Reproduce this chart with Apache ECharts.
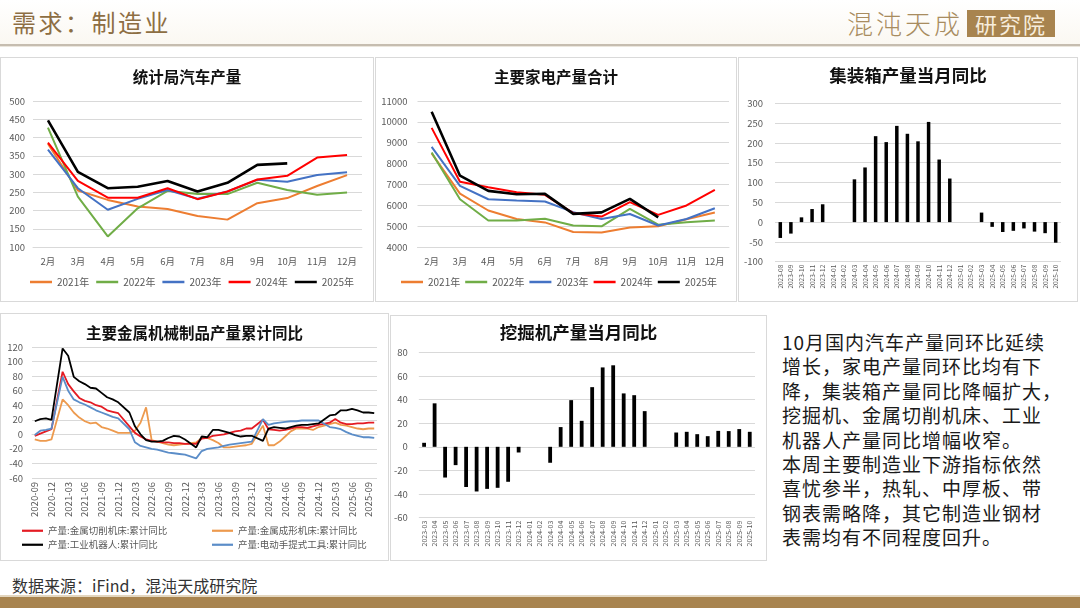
<!DOCTYPE html>
<html><head><meta charset="utf-8">
<script src="https://cdn.jsdelivr.net/npm/echarts@6/dist/echarts.min.js"></script>
<style>
html,body{margin:0;padding:0;background:#fff;width:1080px;height:608px;overflow:hidden;font-family:"Noto Sans CJK SC",sans-serif;}
.abs{position:absolute;}
.panel{position:absolute;border:1px solid #d9d9d9;box-sizing:border-box;background:#fff;}
</style></head>
<body>
<div class="abs" style="left:0;top:0;width:1080px;height:44px;background:linear-gradient(#ffffff,#fbf8f2);"></div>
<div class="abs" style="left:12px;top:6px;font-size:24px;color:#8d6e43;letter-spacing:2.5px;line-height:32px;">需求：制造业</div>
<div class="abs" style="left:847px;top:7px;font-size:26px;color:#a88c60;letter-spacing:3px;line-height:32px;font-weight:300;">混沌天成</div>
<div class="abs" style="left:967px;top:10px;width:88px;height:27px;background:#a8844f;color:#f7eddc;font-size:22px;line-height:27px;text-align:center;letter-spacing:2px;">研究院</div>
<div class="abs" style="left:0;top:44px;width:1080px;height:2px;background:#c6bdb0;"></div>
<div class="abs" style="left:0;top:46px;width:1080px;height:1px;background:#ebe6dd;"></div>

<div id="p1" class="panel" style="left:0;top:57px;width:374px;height:245px;"></div>
<div id="p2" class="panel" style="left:375px;top:57px;width:362px;height:245px;"></div>
<div id="p3" class="panel" style="left:738px;top:57px;width:340px;height:245px;"></div>
<div id="p4" class="panel" style="left:0;top:313px;width:389px;height:248px;"></div>
<div id="p5" class="panel" style="left:390px;top:315px;width:377px;height:246px;"></div>

<div class="abs" style="left:782px;top:330px;width:295px;font-size:19px;line-height:24.4px;color:#1a1a1a;letter-spacing:1px;">10月国内汽车产量同环比延续<br>增长，家电产量同环比均有下<br>降，集装箱产量同比降幅扩大，<br>挖掘机、金属切削机床、工业<br>机器人产量同比增幅收窄。<br>本周主要制造业下游指标依然<br>喜忧参半，热轧、中厚板、带<br>钢表需略降，其它制造业钢材<br>表需均有不同程度回升。</div>

<div class="abs" style="left:12px;top:574px;font-size:16px;color:#333;line-height:22px;">数据来源：iFind，混沌天成研究院</div>
<div class="abs" style="left:0;top:595px;width:1080px;height:2px;background:#e3d6bf;"></div>
<div class="abs" style="left:0;top:597px;width:1080px;height:11px;background:#a8844f;"></div>

<script>
// ---------- data ----------
var monthCats = ['2月','3月','4月','5月','6月','7月','8月','9月','10月','11月','12月'];
var yearNames = ['2021年','2022年','2023年','2024年','2025年'];
var car2021 = [383, 255, 229, 211, 204, 185, 175, 220, 234, 267, 297];
var car2022 = [427, 238, 129, 206, 254, 245, 245, 276, 256, 243, 249];
var car2023 = [367, 261, 202, 232, 256, 232, 252, 284, 279, 297, 305];
var car2024 = [386, 281, 235, 235, 261, 231, 252, 285, 295, 345, 352];
var car2025 = [447, 306, 261, 265, 281, 252, 276, 325, 329];

var app2021 = [8490, 6560, 5750, 5340, 5180, 4720, 4700, 4940, 4990, 5330, 5650];
var app2022 = [8530, 6290, 5270, 5270, 5350, 5030, 4990, 5830, 5070, 5190, 5270];
var app2023 = [8800, 6930, 6290, 6230, 6180, 5670, 5340, 5580, 5030, 5340, 5860];
var app2024 = [9710, 7130, 6860, 6630, 6500, 5620, 5460, 6150, 5540, 5990, 6740];
var app2025 = [10480, 7420, 6690, 6530, 6550, 5590, 5660, 6310, 5420];

var containerCats = ['2023-08','2023-09','2023-10','2023-11','2023-12',
  '2024-01','2024-02','2024-03','2024-04','2024-05','2024-06','2024-07','2024-08','2024-09','2024-10','2024-11','2024-12',
  '2025-01','2025-02','2025-03','2025-04','2025-05','2025-06','2025-07','2025-08','2025-09','2025-10'];
var containerYoY = [-40,-29,12,33,45, null,null,108,138,217,202,243,223,204,253,158,110, null,null,24,-12,-25,-22,-16,-24,-28,-52];

var excavatorCats = ['2023-03','2023-04','2023-05','2023-06','2023-07','2023-08','2023-09','2023-10','2023-11','2023-12',
  '2024-01','2024-02','2024-03','2024-04','2024-05','2024-06','2024-07','2024-08','2024-09','2024-10','2024-11','2024-12',
  '2025-01','2025-02','2025-03','2025-04','2025-05','2025-06','2025-07','2025-08','2025-09','2025-10'];
var excavatorYoY = [3.4,36.8,-26,-15.5,-34,-37.8,-35.6,-34.7,-29.6,-4.8, null,null,-13.5,16.7,39.5,22,50.5,67.2,69,45.2,43.7,30.2, null,null,12.1,12.7,10.7,9,13.5,13.3,15,12.7];

var metalCats = ['2020-09','2020-10','2020-11','2020-12',
  '2021-01','2021-02','2021-03','2021-04','2021-05','2021-06','2021-07','2021-08','2021-09','2021-10','2021-11','2021-12',
  '2022-01','2022-02','2022-03','2022-04','2022-05','2022-06','2022-07','2022-08','2022-09','2022-10','2022-11','2022-12',
  '2023-01','2023-02','2023-03','2023-04','2023-05','2023-06','2023-07','2023-08','2023-09','2023-10','2023-11','2023-12',
  '2024-01','2024-02','2024-03','2024-04','2024-05','2024-06','2024-07','2024-08','2024-09','2024-10','2024-11','2024-12',
  '2025-01','2025-02','2025-03','2025-04','2025-05','2025-06','2025-07','2025-08','2025-09','2025-10'];
var metalNames = ['产量:金属切削机床:累计同比','产量:金属成形机床:累计同比','产量:工业机器人:累计同比','产量:电动手提式工具:累计同比'];
var cuttingTool = [-2,1,4,7, null,86,69,59,50,46,44,40,38,33,31,29, null,11,2,-3,-7,-9,-10,-11,-11,-12,-12,-13,
  null,-13,-6,-5,-2,-1,0,2,4,5,8,8, null,20,7,6,5,6,8,10,10,9,11,13, null,16,21,16,14,14,15,15,16,16];
var formingTool = [-7,-9,-9,-7, null,48,40,30,23,18,15,16,10,8,5,2, null,2,5,16,37,-8,-10,-12,-14,-15,-14,-13,
  null,-11,-5,-5,-8,-12,-18,-18,-17,-16,-15,-13, null,12,-15,-15,-10,-3,4,8,8,8,6,10, null,14,16,13,12,10,8,7,8,8];
var robot = [18,21,22,20, null,118,108,79,73,69,64,63,57,51,48,44, null,30,11,0,-8,-10,-10,-9,-5,-2,-3,-7,
  null,-18,-3,-4,6,6,4,2,-1,-3,-2,-2, null,-9,8,10,9,8,10,12,13,13,14,15, null,26,27,33,33,35,33,30,30,29];
var powerTool = [-1,5,6,8, null,79,60,48,44,41,37,33,30,27,24,22, null,7,-11,-16,-18,-20,-21,-23,-25,-26,-27,-28,
  null,-33,-23,-20,-19,-18,-16,-14,-13,-12,-11,-10, null,21,13,15,16,17,18,18,19,19,19,19, null,10,9,7,3,0,-2,-4,-4,-5];

// ---------- styles ----------
var FONT = '"Noto Sans CJK SC", sans-serif';
var GRAY = '#595959', GRID = '#d9d9d9';
var yearColors = ['#ED7D31','#70AD47','#4472C4','#FF0000','#000000'];

function titleOf(text, top, size) {
  return {text: text, left: 'center', top: top, padding: 0,
    textStyle: {fontFamily: FONT, fontSize: size, fontWeight: 'bold', color: '#111'}};
}
function valueAxis(min, max, interval, margin) {
  return {type: 'value', min: min, max: max, interval: interval,
    axisLine: {show: false}, axisTick: {show: false},
    axisLabel: {color: GRAY, fontSize: 9.5, fontFamily: FONT, margin: margin,
      formatter: function (v) { return String(v); }},
    splitLine: {lineStyle: {color: GRID, width: 1}}};
}
function yearLineChart(id, arrays, yMin, yMax, yInt, grid, legendLeft, legendGap, labelMargin, title) {
  var chart = echarts.init(document.getElementById(id), null, {renderer: 'canvas'});
  var series = arrays.map(function (d, i) {
    return {name: yearNames[i], type: 'line', data: d, symbol: 'none', smooth: false,
      lineStyle: {color: yearColors[i], width: i === 4 ? 2.6 : 2}, itemStyle: {color: yearColors[i]}, z: i + 2};
  });
  chart.setOption({
    animation: false,
    title: titleOf(title, 11, 15.5),
    grid: grid,
    legend: {data: yearNames, left: legendLeft, top: 219, padding: 0, icon: 'rect', itemWidth: 22, itemHeight: 2.5, itemGap: legendGap,
      textStyle: {color: GRAY, fontSize: 10, fontFamily: FONT}},
    xAxis: {type: 'category', data: monthCats, boundaryGap: true,
      axisLine: {show: true, lineStyle: {color: GRID}}, axisTick: {show: false},
      axisLabel: {color: GRAY, fontSize: 9.5, fontFamily: FONT, margin: 10}},
    yAxis: valueAxis(yMin, yMax, yInt, labelMargin),
    series: series
  });
}

yearLineChart('p1', [car2021, car2022, car2023, car2024, car2025], 100, 500, 50,
  {left: 32, right: 11, top: 43, bottom: 54}, 29, 7, 8, '统计局汽车产量');
yearLineChart('p2', [app2021, app2022, app2023, app2024, app2025], 4000, 11000, 1000,
  {left: 41.5, right: 7, top: 43, bottom: 54}, 25, 5, 10, '主要家电产量合计');

function barChart(id, title, titleTop, cats, vals, min, max, interval, grid, labelSize, barWidth, yMargin) {
  var chart = echarts.init(document.getElementById(id), null, {renderer: 'canvas'});
  chart.setOption({
    animation: false,
    title: titleOf(title, titleTop, 17.5),
    grid: grid,
    xAxis: {type: 'category', data: cats, boundaryGap: true,
      axisLine: {show: false}, axisTick: {show: false},
      axisLabel: {color: GRAY, fontSize: labelSize, fontFamily: FONT, rotate: 90, interval: 0, margin: 3}},
    yAxis: valueAxis(min, max, interval, yMargin),
    series: [{type: 'bar', data: vals, barWidth: barWidth, itemStyle: {color: '#000'}}]
  });
}
barChart('p3', '集装箱产量当月同比', 9, containerCats, containerYoY, -100, 300, 50,
  {left: 36, right: 16, top: 45.3, bottom: 39.3}, 6.5, 3.5, 12);
barChart('p5', '挖掘机产量当月同比', 8, excavatorCats, excavatorYoY, -60, 80, 20,
  {left: 24.4, right: 11, top: 36.3, bottom: 42.3}, 7, 3.8, 11);

(function () {
  var chart = echarts.init(document.getElementById('p4'), null, {renderer: 'canvas'});
  var colors = ['#E41B23', '#ED9A4E', '#000000', '#5B8DC8'];
  var datas = [cuttingTool, formingTool, robot, powerTool];
  var pos = [[21, 212], [211, 212], [21, 226], [211, 226]];
  var legends = metalNames.map(function (n, i) {
    return {data: [n], left: pos[i][0], top: pos[i][1], icon: 'rect', itemWidth: 21, itemHeight: 2.2, padding: 0,
      textStyle: {color: GRAY, fontSize: 9.5, fontFamily: FONT}};
  });
  chart.setOption({
    animation: false,
    title: titleOf('主要金属机械制品产量累计同比', 11, 15.5),
    grid: {left: 31, right: 11, top: 33, bottom: 82},
    legend: legends,
    xAxis: {type: 'category', data: metalCats, boundaryGap: true,
      axisLine: {show: true, lineStyle: {color: GRID}}, axisTick: {show: false},
      axisLabel: {color: GRAY, fontSize: 9.5, fontFamily: FONT, rotate: 90, interval: 2, margin: 4}},
    yAxis: valueAxis(-60, 120, 20, 9),
    series: datas.map(function (d, i) {
      return {name: metalNames[i], type: 'line', data: d, symbol: 'none', connectNulls: true,
        lineStyle: {color: colors[i], width: 1.8}, itemStyle: {color: colors[i]}, z: [3, 2, 5, 4][i]};
    })
  });
})();
</script>
</body></html>
